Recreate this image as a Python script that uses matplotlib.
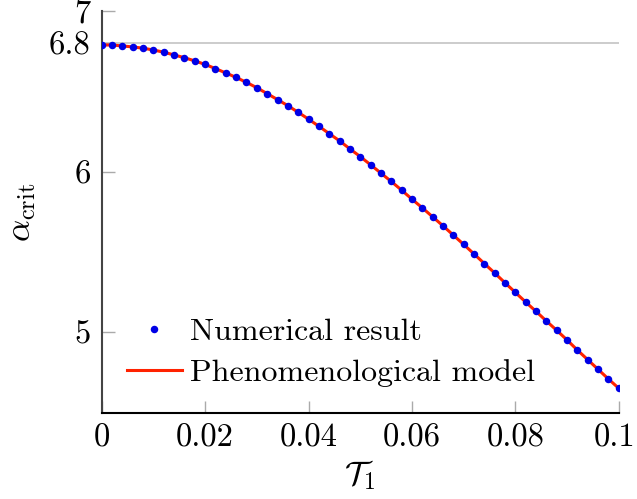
"""Critical alpha vs T1: numerical result against phenomenological model."""

import matplotlib
matplotlib.use("Agg")
import matplotlib.pyplot as plt  # noqa: E402
from matplotlib.transforms import ScaledTranslation  # noqa: E402

# values
t1 = [i * 0.002 for i in range(51)]
alpha_num = [6.790, 6.790, 6.784, 6.778, 6.770, 6.759, 6.745, 6.728, 6.711, 6.691,
             6.669, 6.643, 6.616, 6.588, 6.557, 6.524, 6.487, 6.450, 6.412, 6.371,
             6.328, 6.284, 6.238, 6.193, 6.143, 6.095, 6.044, 5.992, 5.940, 5.886,
             5.830, 5.776, 5.720, 5.664, 5.606, 5.548, 5.489, 5.429, 5.370, 5.309,
             5.249, 5.189, 5.131, 5.071, 5.013, 4.953, 4.890, 4.830, 4.770, 4.710,
             4.652]
alpha_model = list(alpha_num)

x_ticks = [0, 0.02, 0.04, 0.06, 0.08, 0.1]
x_labels = ["0", "0.02", "0.04", "0.06", "0.08", "0.1"]
y_ticks = [5, 6, 6.8, 7]
y_labels = ["5", "6", "6.8", "7"]
alpha_ref = 6.8

plt.rcParams["font.family"] = ["cmr10", "DejaVu Serif"]
plt.rcParams["mathtext.fontset"] = "cm"
plt.rcParams["axes.formatter.use_mathtext"] = True

fig = plt.figure(figsize=(6.37, 4.99), dpi=100)
ax = fig.add_axes([0.1597, 0.173, 0.8116, 0.8044])

ax.axhline(alpha_ref, color="#cccccc", lw=1.4, zorder=1)
ax.plot(t1, alpha_num, "o", color="#0000e6", ms=5.4, mec="none",
        label="Numerical result", zorder=3)
ax.plot(t1, alpha_model, "-", color="#ff2200", lw=2.2,
        label="Phenomenological model", zorder=2)

ax.set_xlim(0, 0.1)
ax.set_ylim(4.5, 7)
ax.set_xticks(x_ticks)
ax.set_xticklabels(x_labels)
ax.set_yticks(y_ticks)
ax.set_yticklabels(y_labels)
ax.tick_params(direction="in", length=9, width=1.0, color="#aaaaaa",
               labelsize=23.5, pad=8)

# the last x label sits right at the figure edge; nudge it inward a bit
last = ax.xaxis.get_major_ticks()[-1].label1
last.set_transform(last.get_transform()
                   + ScaledTranslation(-3 / 72, 0, fig.dpi_scale_trans))

for side in ("top", "right"):
    ax.spines[side].set_visible(False)
ax.spines["left"].set_color("#444444")
ax.spines["left"].set_linewidth(1.5)
ax.spines["bottom"].set_color("black")
ax.spines["bottom"].set_linewidth(1.5)

ax.set_xlabel(r"$\mathcal{T}_1$", fontsize=24, labelpad=4)
ax.set_ylabel(r"$\alpha_{\mathrm{crit}}$", fontsize=25, labelpad=8)

ax.legend(loc="lower left", bbox_to_anchor=(0.0, 0.0), frameon=False,
          fontsize=23, handlelength=1.7, handletextpad=0.25, labelspacing=0.4,
          borderaxespad=0.4)

fig.savefig("out.png", dpi=100)
